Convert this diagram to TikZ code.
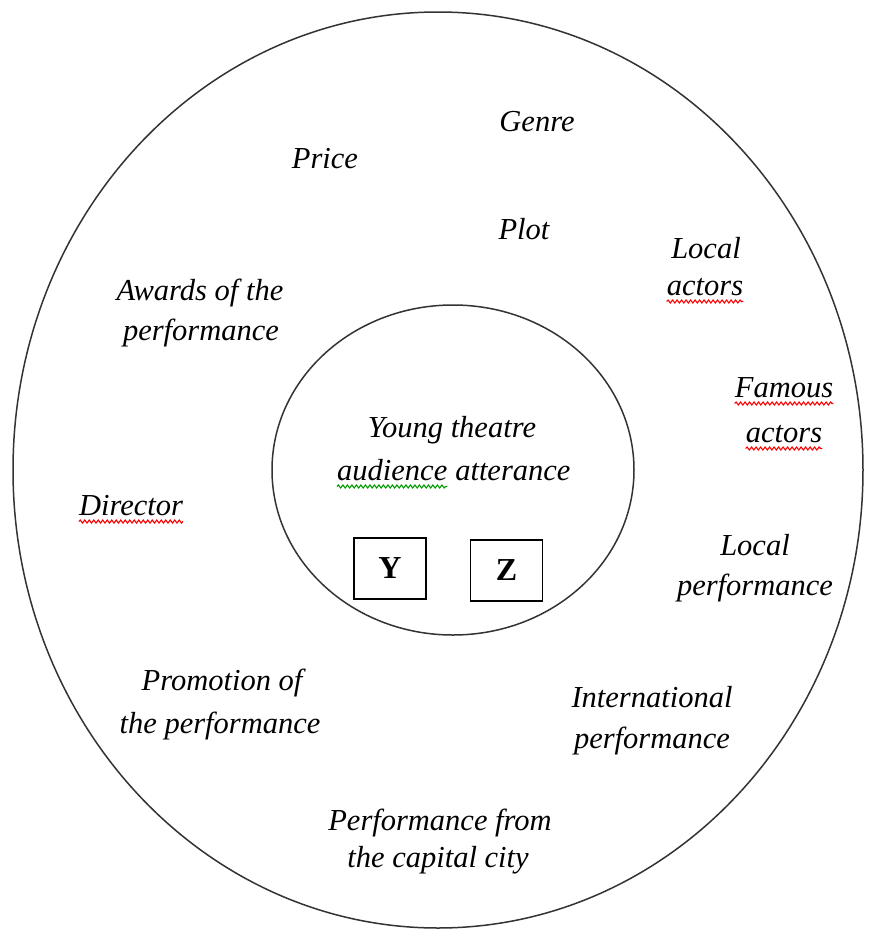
\documentclass[tikz,border=0pt]{standalone}
\usepackage{fontspec}
\setmainfont{Liberation Serif}
\usetikzlibrary{decorations.pathmorphing}
\begin{document}
\begin{tikzpicture}[x=1pt,y=-1pt,
  lbl/.style={inner sep=0pt, font=\fontsize{30.5}{36}\selectfont\itshape, anchor=base},
  letterbox/.style={draw, line width=1.6pt, inner sep=0pt, minimum width=72pt, minimum height=61pt,
                    font=\fontsize{32}{36}\selectfont\bfseries},
  squig/.style={line width=1.1pt, decorate, decoration={snake, segment length=4.5pt, amplitude=1.5pt}},
  ring/.style={draw=black!80, line width=1.5pt}]
\useasboundingbox (0,0) rectangle (873,930);

% outer and inner rings
\draw[ring] (438,470) ellipse [x radius=425pt, y radius=458pt];
\draw[ring] (453,470) ellipse [x radius=181pt, y radius=165pt];

% outer ring labels
\node[lbl] (genre) at (537,131) {Genre};
\node[lbl] (price) at (325,168) {Price};
\node[lbl] (plot) at (524,239) {Plot};
\node[lbl] (locala) at (706,258) {Local};
\node[lbl] (localb) at (705,295) {actors};
\node[lbl] (awardsa) at (200,300) {Awards of the};
\node[lbl] (awardsb) at (201,340) {performance};
\node[lbl] (famousa) at (784,397) {Famous};
\node[lbl] (famousb) at (784,442) {actors};
\node[lbl] (director) at (131,515) {Director};
\node[lbl] (lperfa) at (755,555) {Local};
\node[lbl] (lperfb) at (755,595) {performance};
\node[lbl] (promoa) at (222,690) {Promotion of};
\node[lbl] (promob) at (220,733) {the performance};
\node[lbl] (intla) at (652,707) {International};
\node[lbl] (intlb) at (652,748) {performance};
\node[lbl] (capa) at (440,830) {Performance from};
\node[lbl] (capb) at (438,867) {the capital city};

% inner ring labels
\node[lbl] (younga) at (452,437) {Young theatre};
\node[lbl, anchor=base west] (aud) at (337,480) {audience};
\node[lbl, anchor=base west] (att) at ([xshift=7.6pt]aud.base east) {atterance};

\node[letterbox] (y) at (390,568.5) {Y};
\node[letterbox] (z) at (506.5,570.5) {Z};

% spell-check underlines
\foreach \n in {localb, famousa, famousb, director}
  \draw[squig, red] ([yshift=-6.5pt]\n.base west) -- ([yshift=-6.5pt]\n.base east);
\draw[squig, green!60!black] ([yshift=-6.5pt]aud.base west) -- ([yshift=-6.5pt]aud.base east);
\end{tikzpicture}
\end{document}
